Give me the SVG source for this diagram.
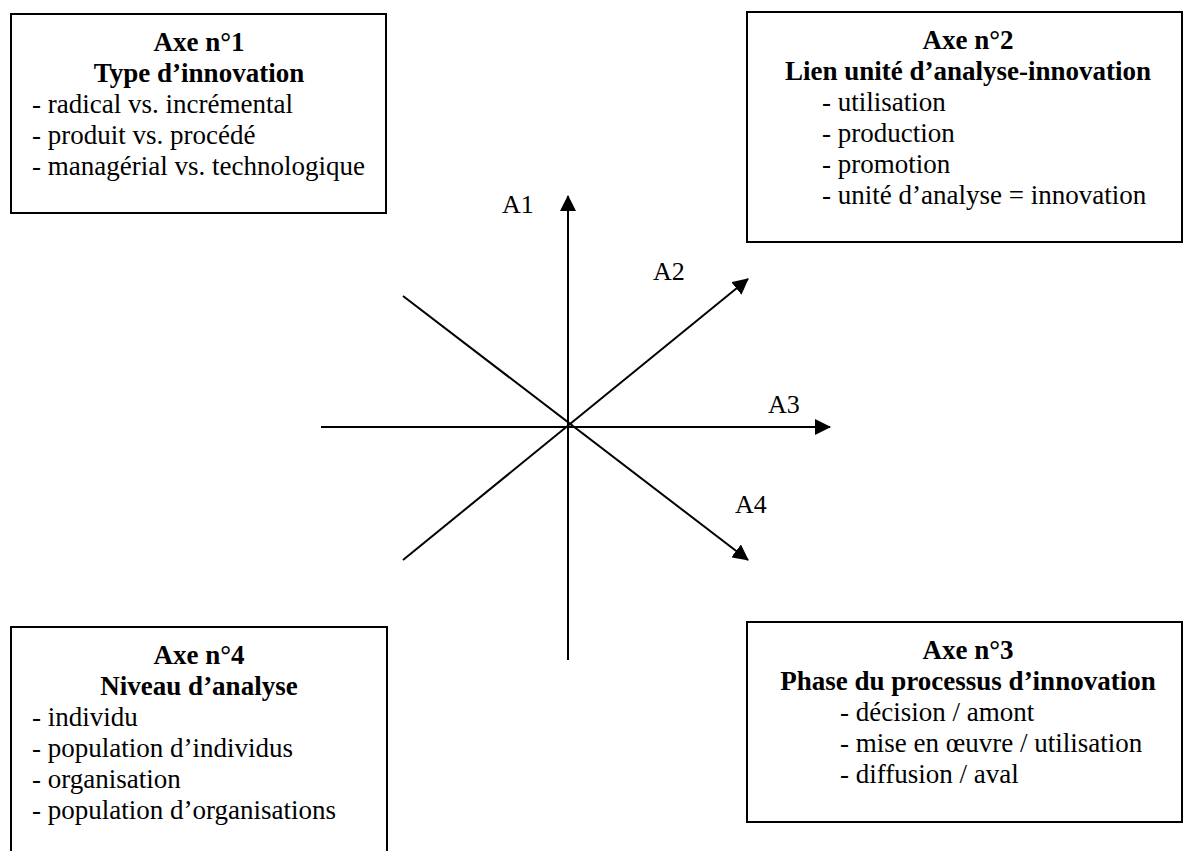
<svg xmlns="http://www.w3.org/2000/svg" width="1184" height="851" viewBox="0 0 1184 851">
<style>
.box{fill:#fff;stroke:#000;stroke-width:2}
.t{font-family:"Liberation Serif","Times New Roman",serif;font-size:27px;fill:#000}
.b{font-weight:bold;text-anchor:middle}
.ax{stroke:#000;stroke-width:2;fill:none}
.lbl{font-family:"Liberation Serif","Times New Roman",serif;font-size:26px;fill:#000}
</style>
<defs>
<marker id="arr" markerUnits="userSpaceOnUse" markerWidth="16" markerHeight="16" viewBox="0 0 16 16" refX="15" refY="8" orient="auto">
<path d="M0,0 L16,8 L0,16 Z" fill="#000"/>
</marker>
</defs>
<rect width="1184" height="851" fill="#fff"/>
<g id="axe1">
<rect class="box" x="11" y="14" width="375" height="199"/>
<text class="t b" x="199" y="51">Axe n°1</text>
<text class="t b" x="199" y="82">Type d’innovation</text>
<text class="t" x="32" y="113">- radical vs. incrémental</text>
<text class="t" x="32" y="144">- produit vs. procédé</text>
<text class="t" x="32" y="175">- managérial vs. technologique</text>
</g>
<g id="axe2">
<rect class="box" x="747" y="12" width="435" height="230"/>
<text class="t b" x="968" y="49">Axe n°2</text>
<text class="t b" x="968" y="80">Lien unité d’analyse-innovation</text>
<text class="t" x="822" y="111">- utilisation</text>
<text class="t" x="822" y="142">- production</text>
<text class="t" x="822" y="173">- promotion</text>
<text class="t" x="822" y="204">- unité d’analyse = innovation</text>
</g>
<g id="axe3">
<rect class="box" x="747" y="622" width="435" height="200"/>
<text class="t b" x="968" y="659">Axe n°3</text>
<text class="t b" x="968" y="690">Phase du processus d’innovation</text>
<text class="t" x="840" y="721">- décision / amont</text>
<text class="t" x="840" y="752">- mise en œuvre / utilisation</text>
<text class="t" x="840" y="783">- diffusion / aval</text>
</g>
<g id="axe4">
<rect class="box" x="11" y="627" width="376" height="240"/>
<text class="t b" x="199" y="664">Axe n°4</text>
<text class="t b" x="199" y="695">Niveau d’analyse</text>
<text class="t" x="32" y="726">- individu</text>
<text class="t" x="32" y="757">- population d’individus</text>
<text class="t" x="32" y="788">- organisation</text>
<text class="t" x="32" y="819">- population d’organisations</text>
</g>
<g id="connectors">
<line class="ax" x1="568" y1="660" x2="568" y2="196" marker-end="url(#arr)"/>
<line class="ax" x1="321" y1="427" x2="830" y2="427" marker-end="url(#arr)"/>
<line class="ax" x1="403" y1="560" x2="748" y2="279" marker-end="url(#arr)"/>
<line class="ax" x1="403" y1="296" x2="748" y2="560" marker-end="url(#arr)"/>
</g>
<g id="labels">
<text class="lbl" x="502" y="213">A1</text>
<text class="lbl" x="653" y="280">A2</text>
<text class="lbl" x="768" y="413">A3</text>
<text class="lbl" x="735" y="513">A4</text>
</g>
</svg>
